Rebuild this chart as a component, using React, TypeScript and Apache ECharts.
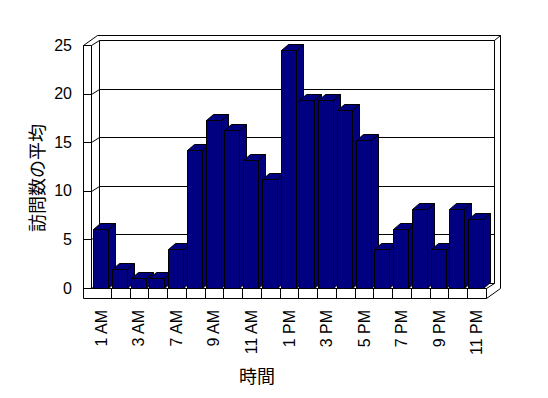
import React, { useEffect, useRef } from "react";
import * as echarts from "echarts";

const categories = [
  "1 AM", "2 AM", "3 AM", "5 AM", "7 AM", "8 AM", "9 AM", "10 AM", "11 AM", "12 PM",
  "1 PM", "2 PM", "3 PM", "4 PM", "5 PM", "6 PM", "7 PM", "8 PM", "9 PM", "10 PM", "11 PM",
];
const visitValues = [
  6.1, 2, 1, 1, 4, 14.2, 17.3, 16.3, 13.2, 11.2,
  24.5, 19.3, 19.3, 18.3, 15.2, 4, 6.1, 8.1, 4, 8.1, 7.1,
];
const yTicks = [0, 5, 10, 15, 20, 25];
const xTitle = "時間";
const yTitle = "訪問数の平均";

const FONT = "'Liberation Sans', Arial, sans-serif";
const CJK = "'Noto Sans CJK JP', sans-serif";
const h = (v: number) => Math.round(v) + 0.5;
const r = (v: number) => Math.round(v);

export default function App() {
  const ref = useRef<HTMLDivElement>(null);
  useEffect(() => {
    if (!ref.current) return;
    const chart = echarts.init(ref.current, undefined, { renderer: "svg" });
    const lineStyle = { stroke: "#000", lineWidth: 1, fill: "none" };
    const ln = (x1: number, y1: number, x2: number, y2: number) => ({
      type: "line",
      shape: { x1: h(x1), y1: h(y1), x2: h(x2), y2: h(y2) },
      style: lineStyle,
      silent: true,
    });

    const frameRender = (params: any, api: any) => {
      const cs = params.coordSys;
      const X0 = cs.x, X1 = cs.x + cs.width, Ytop = cs.y, Y0 = cs.y + cs.height;
      const bx = 8, by = -5, bx2 = 14, by2 = -10;
      const WL = X0 - 9, WR = X0 - 1;
      const bw = api.size([1, 0])[0];
      const els: any[] = [];
      els.push(ln(WL, Ytop, WL, Y0 + 10));
      els.push(ln(WR, Ytop, WR, Y0));
      els.push(ln(WL, Ytop, WR, Ytop));
      els.push(ln(WL, Ytop, WL + bx2, Ytop + by2));
      els.push(ln(WR, Ytop, WR + bx, Ytop + by));
      els.push(ln(WR + bx, Ytop + by, X1 + bx, Ytop + by));
      els.push(ln(X1 + bx, Ytop + by, X1 + bx, Y0 + by));
      els.push(ln(WR + bx, Ytop + by, WR + bx, Y0 + by));
      els.push(ln(WL + bx2, Ytop + by2, X1 + bx2, Ytop + by2));
      els.push(ln(X1 + bx2, Ytop + by2, X1 + bx2, Y0));
      els.push(ln(X1 + bx, Ytop + by, X1 + bx2, Ytop + by2));
      els.push(ln(WR, Y0, X1, Y0));
      els.push(ln(WL, Y0 + 10, X1, Y0 + 10));
      els.push(ln(X1, Y0, X1, Y0 + 10));
      els.push(ln(X1, Y0 + 10, X1 + bx2, Y0 + 10 + by2));
      els.push(ln(X1, Y0, X1 + bx, Y0 + by));
      els.push(ln(WR + bx, Y0 + by, X1 + bx, Y0 + by));
      yTicks.forEach((v) => {
        const y = api.coord([0, v])[1];
        if (v > 0 && v < 25) {
          els.push(ln(WR + bx, y + by, X1 + bx, y + by));
        }
        if (v < 25) {
          els.push(ln(WL, y, WR, y));
          els.push(ln(WR, y, WR + bx, y + by));
        }
      });
      for (let k = 1; k < categories.length; k++) {
        const x = X0 + k * bw;
        els.push(ln(x, Y0, x, Y0 + 10));
      }
      return { type: "group", children: els };
    };

    const barRender = (params: any, api: any) => {
      const i = api.value(0);
      const v = api.value(1);
      const top = api.coord([i, v]);
      const base = api.coord([i, 0]);
      const bw = api.size([1, 0])[0];
      const xs = r(top[0] - bw / 2 + 1) + 0.5;
      const xe = xs + r(bw * 0.8);
      const yt = r(top[1]) + 0.5;
      const yb = r(base[1]) + 0.5;
      const dx = 7, dy = -6;
      const st = { fill: "#000080", stroke: "#000", lineWidth: 1 };
      return {
        type: "group",
        children: [
          { type: "polygon", shape: { points: [[xe, yt], [xe + dx, yt + dy], [xe + dx, yb + dy], [xe, yb]] }, style: st },
          { type: "polygon", shape: { points: [[xs, yt], [xe, yt], [xe + dx, yt + dy], [xs + dx, yt + dy]] }, style: st },
          { type: "rect", shape: { x: xs, y: yt, width: xe - xs, height: yb - yt }, style: st },
        ],
      };
    };

    chart.setOption({
      animation: false,
      backgroundColor: "#fff",
      grid: { left: 92, right: 62, top: 45, bottom: 110 },
      xAxis: {
        type: "category",
        data: categories,
        boundaryGap: true,
        axisLine: { show: false },
        axisTick: { show: false },
        axisLabel: {
          interval: 1,
          rotate: 90,
          margin: 22,
          color: "#000",
          fontSize: 16,
          fontFamily: FONT,
          padding: [0, 0, 8, 0],
        },
      },
      yAxis: {
        type: "value",
        min: 0,
        max: 25,
        interval: 5,
        axisLine: { show: false },
        axisTick: { show: false },
        splitLine: { show: false },
        axisLabel: { margin: 20, color: "#000", fontSize: 16, fontFamily: FONT },
      },
      graphic: [
        {
          type: "text",
          left: 239,
          top: 366,
          style: { text: xTitle, font: `18px ${CJK}`, fill: "#000" },
        },
        {
          type: "text",
          x: 27,
          y: 232,
          rotation: Math.PI / 2,
          style: { text: yTitle, font: `18px ${CJK}`, fill: "#000" },
        },
      ],
      series: [
        {
          type: "custom",
          name: "frame",
          renderItem: frameRender,
          data: [[0, 0]],
          clip: false,
          z: 1,
          silent: true,
        },
        {
          type: "custom",
          name: "訪問数の平均",
          renderItem: barRender,
          data: categories.map((c, i) => [i, visitValues[i]]),
          encode: { x: 0, y: 1 },
          clip: false,
          z: 2,
        },
      ],
    });
    return () => chart.dispose();
  }, []);
  return (
    <div
      ref={ref}
      style={{ position: "fixed", left: 0, top: 0, width: 548, height: 398 }}
    />
  );
}
